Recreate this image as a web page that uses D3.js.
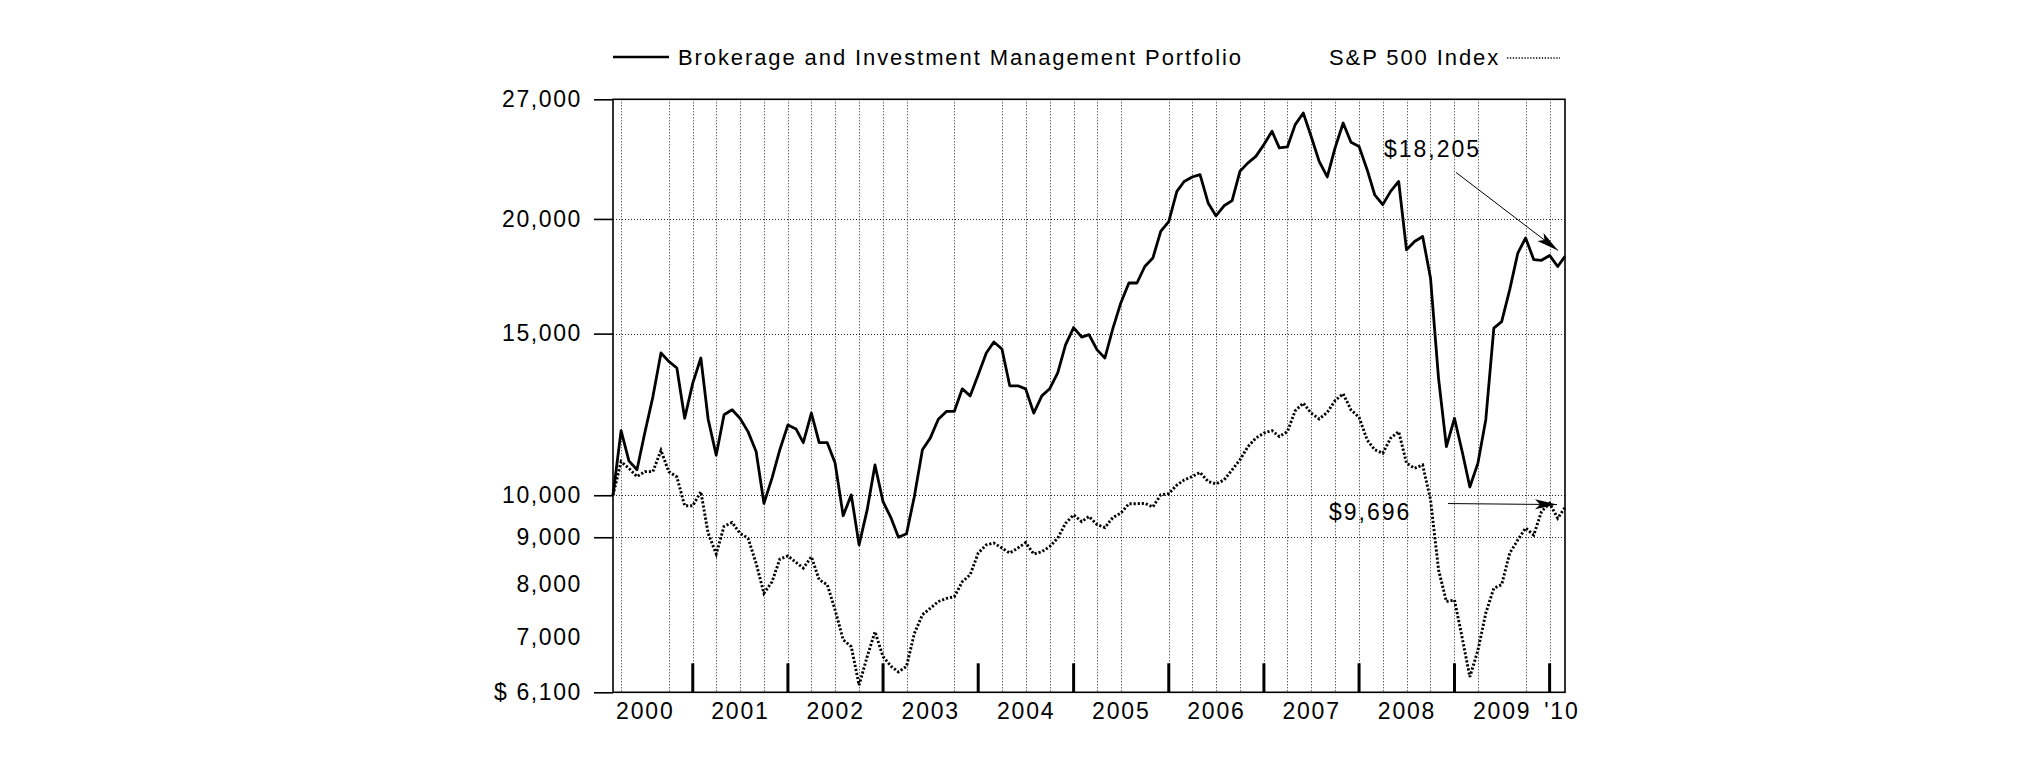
<!DOCTYPE html>
<html><head><meta charset="utf-8">
<script src="https://cdn.jsdelivr.net/npm/d3@7"></script>
<style>
body{margin:0;background:#fff}
text{font-family:"Liberation Sans",Arial,Helvetica,sans-serif;fill:#000}
</style>
</head><body>
<svg id="c" width="2025" height="761"></svg>
<script>
// ---- DATA ----
const firstMonthEnd = "2000-02";   // monthly values, month-end Feb 2000 .. Feb 2010
const seriesNames = ["Brokerage and Investment Management Portfolio", "S&P 500 Index"];
const portfolio = [
10000,11760,10900,10660,11700,12800,14290,13990,13760,12130,13250,
14110,12100,11060,12240,12390,12130,11730,11160,9800,10440,11210,11930,
11810,11410,12290,11410,11410,10840,9500,10010,8830,9640,10790,9840,
9440,9000,9080,9970,11210,11540,12100,12340,12340,13060,12830,13530,
14290,14690,14430,13160,13160,13060,12290,12830,13060,13590,14580,15230,
14870,14960,14400,14110,15210,16200,17030,17030,17750,18130,19380,19870,
21430,21970,22220,22350,20820,20160,20670,20940,22540,23020,23400,24100,
24920,23900,23960,25340,26090,24610,23110,22220,23900,25440,24240,23990,
22630,21250,20730,21430,21970,18510,18900,19140,17250,13400,11300,12130,
11110,10210,10840,12080,15210,15460,16750,18360,19070,18060,18030,18250,
17750,18205];
const sp500 = [
10000,10880,10700,10480,10610,10610,11190,10610,10470,9740,9740,
10090,9090,8630,9250,9340,9090,8980,8430,7820,8050,8520,8590,
8450,8330,8570,8090,7990,7500,6960,6840,6210,6670,7100,6670,
6510,6420,6510,7070,7410,7530,7660,7720,7750,8050,8190,8650,
8830,8870,8760,8650,8760,8880,8630,8680,8790,8980,9320,9520,
9360,9480,9290,9220,9460,9560,9790,9790,9800,9710,10010,10040,
10260,10390,10480,10590,10350,10290,10390,10660,10930,11300,11540,11690,
11760,11590,11730,12360,12600,12290,12110,12310,12680,12900,12390,12160,
11490,11210,11110,11540,11730,10840,10700,10790,9900,8290,7660,7690,
6960,6340,6780,7440,7920,7990,8650,8940,9210,9050,9600,9800,
9440,9696];
const yTickValues = [6100, 9000, 10000, 15000, 20000, 27000];
const yLabelValues = [6100, 7000, 8000, 9000, 10000, 15000, 20000, 27000];
const yGridValues = [9000, 10000, 15000, 20000];
const yearLabels = ["2000","2001","2002","2003","2004","2005","2006","2007","2008","2009","'10"];
const yearLabelDates = ["2000-07-01","2001-07-01","2002-07-01","2003-07-01","2004-07-01","2005-07-01",
  "2006-07-01","2007-07-01","2008-07-01","2009-07-01","2010-02-15"];
const yearTickDates = ["2001-01-01","2002-01-01","2003-01-01","2004-01-01","2005-01-01",
  "2006-01-01","2007-01-01","2008-01-01","2009-01-01","2010-01-01"];
const gridDates = ["2000-04-01","2000-10-01",
  "2001-01-01","2001-04-01","2001-07-01","2001-10-01",
  "2002-01-01","2002-04-01","2002-07-01","2002-10-01",
  "2003-01-01","2003-04-01","2003-10-01",
  "2004-04-01","2004-07-01","2004-10-01",
  "2005-01-01","2005-04-01","2005-07-01",
  "2006-01-01","2006-04-01","2006-07-01","2006-10-01",
  "2007-01-01","2007-04-01","2007-07-01","2007-10-01",
  "2008-01-01","2008-04-01","2008-07-01","2008-10-01",
  "2009-01-01","2009-04-01","2009-10-01","2010-01-01"];
const endLabels = ["$18,205", "$9,696"];

// ---- CHART ----
const svg = d3.select("#c");
svg.append("rect").attr("width",2025).attr("height",761).attr("fill","#fff");
const P = {left:613, right:1565, top:99.3, bottom:692.3};
const parse = d3.utcParse("%Y-%m-%d");
const start = d3.utcMonth.offset(d3.utcParse("%Y-%m")(firstMonthEnd), 1);
const dateOf = i => d3.utcMonth.offset(start, i);
const x = d3.scaleUtc().domain([start, dateOf(portfolio.length - 1)]).range([P.left, P.right]);
const y = d3.scaleLog().domain([6100, 27000]).range([P.bottom, P.top]);

const defs = svg.append("defs");
defs.append("marker").attr("id","arr").attr("markerUnits","userSpaceOnUse")
  .attr("markerWidth",24).attr("markerHeight",12).attr("refX",22).attr("refY",5)
  .attr("orient","auto")
  .append("path").attr("d","M0,0 L22,5 L0,10 L5,5 Z").attr("fill","#000");

// grid
const grid = svg.append("g").attr("stroke","#222").attr("stroke-width",1).attr("stroke-dasharray","1,2");
grid.selectAll("line.v").data(gridDates).join("line")
  .attr("x1", d => Math.round(x(parse(d))) + 0.5).attr("x2", d => Math.round(x(parse(d))) + 0.5)
  .attr("y1", y(27000)).attr("y2", y(6100));
grid.selectAll("line.h").data(yGridValues).join("line")
  .attr("x1", P.left).attr("x2", P.right)
  .attr("y1", d => Math.round(y(d)) + 0.5).attr("y2", d => Math.round(y(d)) + 0.5);

// frame
svg.append("rect").attr("x", x.range()[0]).attr("y", y(27000))
  .attr("width", x.range()[1] - x.range()[0]).attr("height", y(6100) - y(27000))
  .attr("fill","none").attr("stroke","#000").attr("stroke-width",1.6);

// y axis ticks
const yTicks = svg.append("g").attr("transform",`translate(${P.left},0)`)
  .call(d3.axisLeft(y).tickValues(yTickValues).tickSize(19).tickFormat(""));
yTicks.select(".domain").remove();
yTicks.selectAll("line").attr("stroke","#000").attr("stroke-width",1.6);

// y labels
const fmt = d3.format(",");
const yLab = svg.append("g").attr("transform",`translate(${P.left},0)`)
  .call(d3.axisLeft(y).tickValues(yLabelValues).tickSize(0).tickPadding(31)
    .tickFormat(d => d === 6100 ? "$ 6,100" : fmt(d)));
yLab.select(".domain").remove();
yLab.selectAll("text").attr("font-size",23).attr("letter-spacing","1.6px")
  .attr("font-family",'"Liberation Sans",Arial,sans-serif').attr("fill","#000");

// year ticks (thick)
svg.append("g").selectAll("line").data(yearTickDates).join("line")
  .attr("x1", d => x(parse(d))).attr("x2", d => x(parse(d)))
  .attr("y1", y(6100)).attr("y2", y(6100) - 29)
  .attr("stroke","#000").attr("stroke-width",3);

// x labels
const xLab = svg.append("g").attr("transform",`translate(0,${P.bottom})`)
  .call(d3.axisBottom(x).tickValues(yearLabelDates.map(parse)).tickSize(0).tickPadding(10)
    .tickFormat((d,i) => yearLabels[i]));
xLab.select(".domain").remove();
xLab.selectAll("text").attr("font-size",23).attr("letter-spacing","1.8px")
  .attr("font-family",'"Liberation Sans",Arial,sans-serif').attr("fill","#000");

// series
const line = d3.line().x((d,i) => x(dateOf(i))).y(d => y(d));
svg.append("path").datum(sp500).attr("d", line).attr("fill","none")
  .attr("stroke","#000").attr("stroke-width",2.9).attr("stroke-dasharray","2.2,1.9");
svg.append("path").datum(portfolio).attr("d", line).attr("fill","none")
  .attr("stroke","#000").attr("stroke-width",2.8).attr("stroke-linejoin","round");

// end annotations
const lastI = portfolio.length - 1;
const xe = x(dateOf(lastI));
const pe = y(portfolio[lastI]), se = y(sp500[lastI]);
svg.append("text").attr("x", xe - 181).attr("y", pe - 99).attr("font-size",23)
  .attr("letter-spacing","2px").text(endLabels[0]);
svg.append("line").attr("x1", xe - 109).attr("y1", pe - 84).attr("x2", xe - 7).attr("y2", pe - 6)
  .attr("stroke","#000").attr("stroke-width",1).attr("marker-end","url(#arr)");
svg.append("text").attr("x", xe - 236).attr("y", se + 12).attr("font-size",23)
  .attr("letter-spacing","2px").text(endLabels[1]);
svg.append("line").attr("x1", xe - 117).attr("y1", se - 4).attr("x2", xe - 8).attr("y2", se - 3)
  .attr("stroke","#000").attr("stroke-width",1).attr("marker-end","url(#arr)");

// legend
const lg = svg.append("g");
lg.append("line").attr("x1",613).attr("x2",669).attr("y1",57).attr("y2",57)
  .attr("stroke","#000").attr("stroke-width",2.5);
lg.append("text").attr("x",678).attr("y",65).attr("font-size",22).attr("letter-spacing","1.9px")
  .text(seriesNames[0]);
lg.append("text").attr("x",1329).attr("y",65).attr("font-size",22).attr("letter-spacing","1.9px")
  .text(seriesNames[1]);
lg.append("line").attr("x1",1507).attr("x2",1560).attr("y1",58).attr("y2",58)
  .attr("stroke","#000").attr("stroke-width",1.6).attr("stroke-dasharray","1.3,1.6");
</script>
</body></html>
